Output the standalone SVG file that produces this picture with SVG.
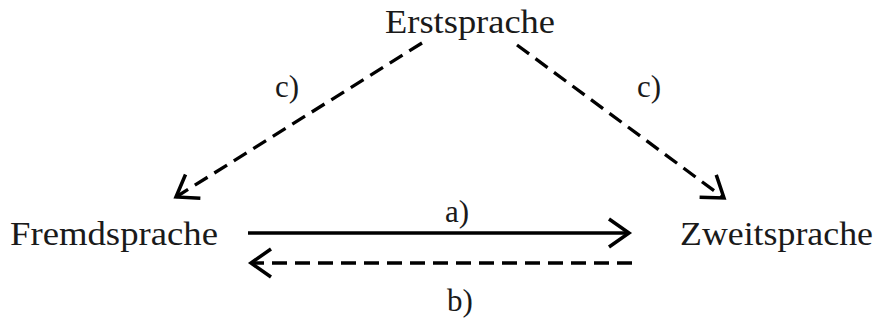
<svg xmlns="http://www.w3.org/2000/svg" width="880" height="323" viewBox="0 0 880 323">
<style>
.t{font-family:"Liberation Serif","Times New Roman",serif;font-size:33px;fill:#1a1a1a}
.l{font-family:"Liberation Serif","Times New Roman",serif;font-size:31px;fill:#1a1a1a}
.c{fill:none;stroke:#000;stroke-width:3.3}
.d{stroke-dasharray:15 8}
</style>
<defs>
<marker id="ah" markerUnits="userSpaceOnUse" markerWidth="30" markerHeight="30" refX="22" refY="14" orient="auto" overflow="visible">
<path d="M2,0 L22,14 L2,28" fill="none" stroke="#000" stroke-width="3.5" stroke-dasharray="none"/>
</marker>
</defs>
<rect width="880" height="323" fill="#fff"/>
<g id="connectors">
<line class="c d" x1="422" y1="43" x2="176" y2="197" marker-end="url(#ah)"/>
<line class="c d" x1="517" y1="45" x2="724" y2="198" marker-end="url(#ah)"/>
<line class="c" x1="248" y1="233" x2="629" y2="233" marker-end="url(#ah)"/>
<line class="c d" x1="632" y1="263" x2="251" y2="263" marker-end="url(#ah)"/>
<text class="l" x="275" y="97">c)</text>
<text class="l" x="637" y="97">c)</text>
<text class="l" x="445" y="222">a)</text>
<text class="l" x="447" y="311">b)</text>
</g>
<g id="erstsprache"><text class="t" x="385" y="33" textLength="170" lengthAdjust="spacingAndGlyphs">Erstsprache</text></g>
<g id="fremdsprache"><text class="t" x="10" y="245" textLength="208" lengthAdjust="spacingAndGlyphs">Fremdsprache</text></g>
<g id="zweitsprache"><text class="t" x="680" y="245" textLength="193" lengthAdjust="spacingAndGlyphs">Zweitsprache</text></g>
</svg>
